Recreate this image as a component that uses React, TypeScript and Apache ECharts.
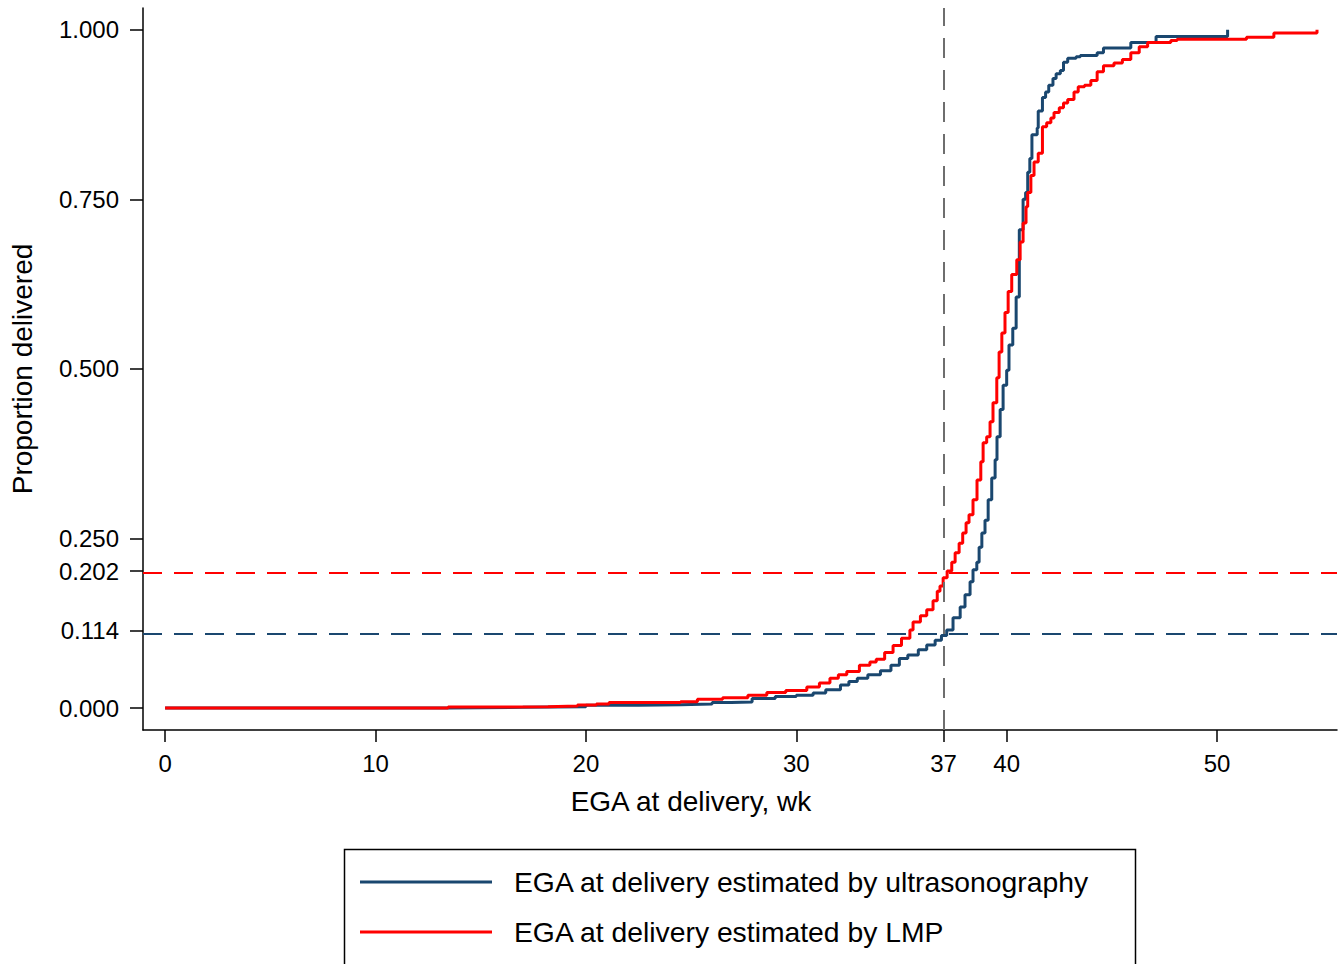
import React, { useEffect, useRef } from "react";
import * as echarts from "echarts";

const FONT = '"Liberation Sans", Arial, Helvetica, sans-serif';

const xTicks = [0, 10, 20, 30, 37, 40, 50];
const yTicks = [0, 0.114, 0.202, 0.25, 0.5, 0.75, 1];

const usName = "EGA at delivery estimated by ultrasonography";
const lmpName = "EGA at delivery estimated by LMP";

// Ultrasonography-based EGA: cumulative proportion delivered (step points)
const usX = [0, 13.5, 17, 20, 22.5, 24.5, 26.0, 26.9, 27.9, 29.0, 30.0, 30.8, 31.4, 32.1, 32.5, 32.9, 33.4, 34.0, 34.5, 34.9, 35.3, 35.8, 36.2, 36.6, 36.9, 37.15, 37.45, 37.79, 38.02, 38.26, 38.4, 38.58, 38.69, 38.82, 38.97, 39.12, 39.29, 39.45, 39.54, 39.69, 39.83, 40.0, 40.11, 40.29, 40.45, 40.6, 40.78, 40.9, 41.0, 41.1, 41.2, 41.45, 41.5, 41.7, 41.85, 42.0, 42.2, 42.35, 42.55, 42.7, 42.9, 43.3, 43.5, 44.3, 44.6, 45.9, 47.1, 50.5];
const usY = [0, 0.001, 0.002, 0.004, 0.005, 0.006, 0.008, 0.009, 0.014, 0.017, 0.019, 0.022, 0.027, 0.034, 0.039, 0.044, 0.049, 0.055, 0.063, 0.073, 0.078, 0.086, 0.093, 0.1, 0.107, 0.115, 0.133, 0.149, 0.167, 0.186, 0.204, 0.215, 0.237, 0.258, 0.277, 0.307, 0.339, 0.366, 0.4, 0.44, 0.476, 0.498, 0.535, 0.56, 0.606, 0.705, 0.75, 0.76, 0.79, 0.81, 0.845, 0.855, 0.88, 0.9, 0.908, 0.918, 0.928, 0.935, 0.94, 0.952, 0.958, 0.96, 0.962, 0.966, 0.973, 0.981, 0.99, 1.0];

// LMP-based EGA: cumulative proportion delivered (step points)
const lmpX = [0, 13.45, 16.1, 18.2, 19.6, 20.5, 21.1, 24.5, 25.3, 26.5, 27.7, 28.6, 29.5, 30.5, 31.1, 31.6, 32.0, 32.4, 33.0, 33.5, 33.8, 34.2, 34.6, 35.0, 35.4, 35.55, 35.9, 36.2, 36.5, 36.7, 36.83, 36.98, 37.17, 37.39, 37.55, 37.74, 37.91, 38.07, 38.21, 38.4, 38.59, 38.77, 38.88, 39.05, 39.21, 39.35, 39.53, 39.64, 39.77, 39.92, 40.07, 40.24, 40.48, 40.64, 40.78, 40.92, 41.0, 41.15, 41.3, 41.5, 41.7, 41.9, 42.1, 42.25, 42.5, 42.7, 42.9, 43.2, 43.4, 43.7, 44.0, 44.3, 44.6, 45.1, 45.5, 45.9, 46.3, 46.7, 47.8, 48.1, 51.4, 52.7, 54.75];
const lmpY = [0, 0.0015, 0.002, 0.003, 0.0045, 0.006, 0.008, 0.0093, 0.013, 0.015, 0.019, 0.023, 0.026, 0.031, 0.037, 0.044, 0.049, 0.054, 0.063, 0.068, 0.072, 0.082, 0.092, 0.103, 0.115, 0.127, 0.136, 0.145, 0.158, 0.172, 0.18, 0.192, 0.202, 0.215, 0.229, 0.243, 0.258, 0.273, 0.285, 0.307, 0.336, 0.363, 0.391, 0.4, 0.422, 0.45, 0.487, 0.525, 0.553, 0.583, 0.614, 0.639, 0.661, 0.687, 0.715, 0.739, 0.76, 0.785, 0.805, 0.818, 0.857, 0.863, 0.87, 0.878, 0.885, 0.892, 0.897, 0.908, 0.916, 0.918, 0.925, 0.938, 0.947, 0.951, 0.956, 0.966, 0.975, 0.981, 0.984, 0.986, 0.989, 0.995, 1.0];

const usRef = 0.114;
const lmpRef = 0.202;
const termRef = 37;

const BLUE = "#1a476f";
const RED = "#ff0000";
const GREY = "#6e6e6e";

export default function App() {
  const ref = useRef<HTMLDivElement>(null);
  useEffect(() => {
    if (!ref.current) return;
    const chart = echarts.init(ref.current, null, { renderer: "svg" });
    const usData = usX.map((x, i) => [x, usY[i]]);
    const lmpData = lmpX.map((x, i) => [x, lmpY[i]]);
    chart.setOption({
      animation: false,
      backgroundColor: "#ffffff",
      textStyle: { fontFamily: FONT },
      grid: { left: 143, right: 7, top: 8, bottom: 234, containLabel: false },
      xAxis: {
        type: "value",
        min: -1.05,
        max: 55.7,
        name: "EGA at delivery, wk",
        nameLocation: "middle",
        nameGap: 57,
        nameTextStyle: { fontSize: 28, color: "#000", fontFamily: FONT, padding: [0, 98, 0, 0] },
        axisLine: { show: true, onZero: false, lineStyle: { color: "#000", width: 1.5 } },
        axisTick: { show: true, customValues: xTicks, length: 12, lineStyle: { color: "#000", width: 1.5 } },
        axisLabel: { show: true, customValues: xTicks, margin: 21, fontSize: 24, color: "#000", fontFamily: FONT, formatter: (v: number) => String(v) },
        splitLine: { show: false },
      },
      yAxis: {
        type: "value",
        min: -0.0324,
        max: 1.032,
        name: "Proportion delivered",
        nameLocation: "middle",
        nameGap: 107,
        nameTextStyle: { fontSize: 28, color: "#000", fontFamily: FONT },
        axisLine: { show: true, onZero: false, lineStyle: { color: "#000", width: 1.5 } },
        axisTick: { show: true, customValues: yTicks, length: 13, lineStyle: { color: "#000", width: 1.5 } },
        axisLabel: { show: true, customValues: yTicks, margin: 24, fontSize: 24, color: "#000", fontFamily: FONT, formatter: (v: number) => v.toFixed(3) },
        splitLine: { show: false },
      },
      legend: {
        orient: "vertical",
        left: 360,
        top: 867,
        padding: 0,
        itemWidth: 132,
        itemHeight: 14,
        itemGap: 20,
        icon: "path://M0,5.5 L132,5.5 L132,8.5 L0,8.5 Z",
        textStyle: { fontSize: 28.3, lineHeight: 30, color: "#000", fontFamily: FONT, padding: [0, 0, 0, 17] },
        data: [usName, lmpName],
      },
      graphic: [
        {
          type: "rect",
          shape: { x: 344.5, y: 849.5, width: 791, height: 140 },
          style: { fill: "none", stroke: "#000", lineWidth: 1.5 },
          silent: true,
        },
      ],
      series: [
        {
          name: usName,
          type: "line",
          step: "end",
          data: usData,
          symbol: "none",
          lineStyle: { color: BLUE, width: 3 },
          itemStyle: { color: BLUE },
          z: 3,
          markLine: {
            silent: true,
            symbol: ["none", "none"],
            label: { show: false },
            data: [
              { yAxis: usRef, lineStyle: { color: BLUE, width: 2, type: [19, 12] } },
              { xAxis: termRef, lineStyle: { color: GREY, width: 2, type: [20, 12] } },
            ],
          },
        },
        {
          name: lmpName,
          type: "line",
          step: "end",
          data: lmpData,
          symbol: "none",
          lineStyle: { color: RED, width: 3 },
          itemStyle: { color: RED },
          z: 4,
          markLine: {
            silent: true,
            symbol: ["none", "none"],
            label: { show: false },
            data: [{ yAxis: lmpRef, lineStyle: { color: RED, width: 2, type: [19, 12] } }],
          },
        },
      ],
    });
    return () => chart.dispose();
  }, []);
  return (
    <div
      ref={ref}
      style={{ position: "fixed", left: 0, top: 0, width: 1344, height: 964, background: "#fff" }}
    />
  );
}
